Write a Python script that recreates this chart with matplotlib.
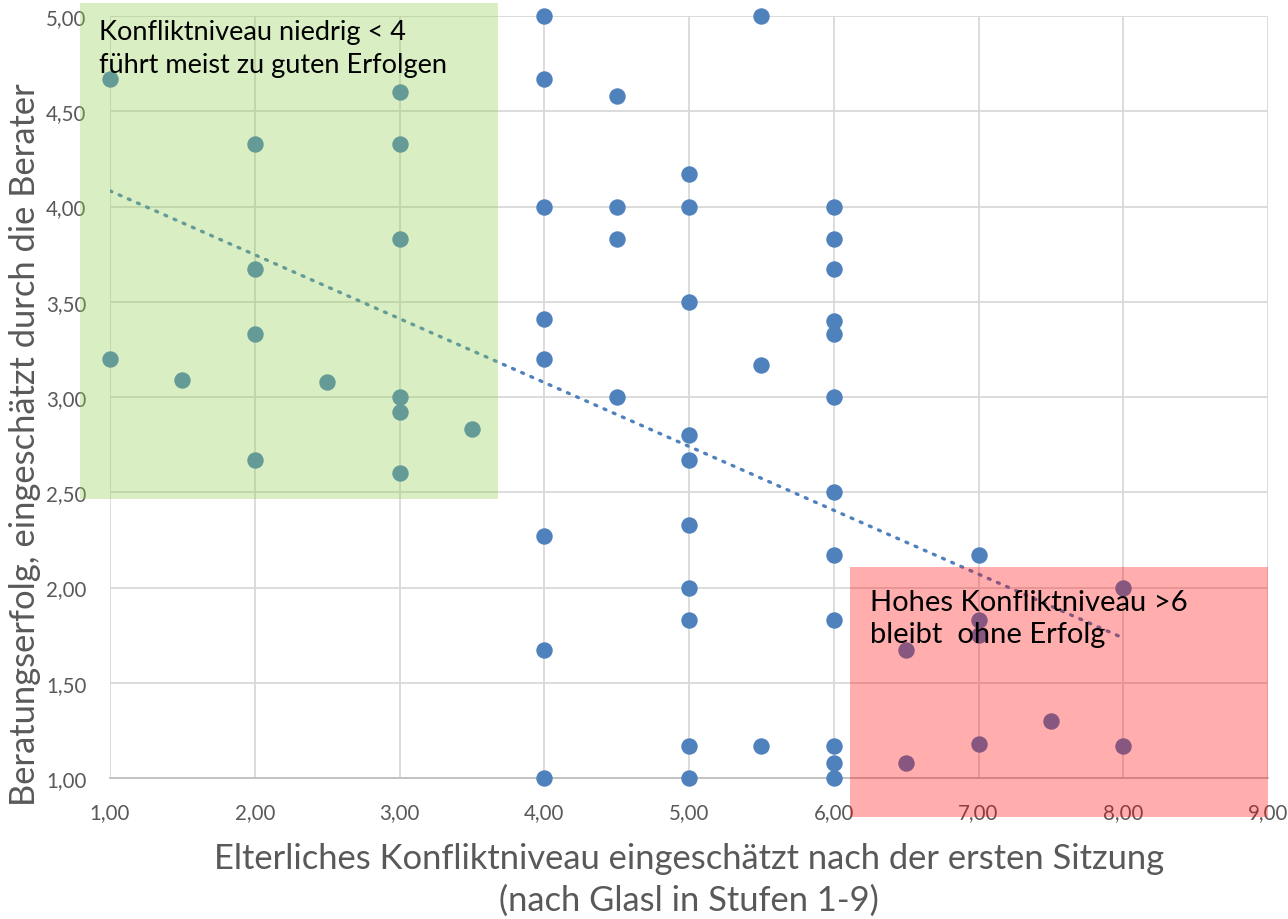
import numpy as np
import matplotlib
matplotlib.use("Agg")
import matplotlib.pyplot as plt
from matplotlib.patches import Rectangle
from matplotlib.ticker import FuncFormatter, MultipleLocator

plt.rcParams['font.family'] = ['Lato', 'DejaVu Sans']

# Data: conflict level (x) vs. counseling success (y)
konflikt = [1, 1, 1.5, 2, 2, 2, 2, 2.5, 3, 3, 3, 3, 3, 3, 3.5,
            4, 4, 4, 4, 4, 4, 4, 4,
            4.5, 4.5, 4.5, 4.5,
            5, 5, 5, 5, 5, 5, 5, 5, 5, 5,
            5.5, 5.5, 5.5,
            6, 6, 6, 6, 6, 6, 6, 6, 6, 6, 6, 6,
            6.5, 6.5, 7, 7, 7, 7, 7.5, 8, 8]
erfolg = [4.67, 3.20, 3.09, 4.33, 3.67, 3.33, 2.67, 3.08, 4.60, 4.33, 3.83, 3.00, 2.92, 2.60, 2.83,
          5.00, 4.67, 4.00, 3.41, 3.20, 2.27, 1.67, 1.00,
          4.58, 4.00, 3.83, 3.00,
          4.17, 4.00, 3.50, 2.80, 2.67, 2.33, 2.00, 1.83, 1.17, 1.00,
          5.00, 3.17, 1.17,
          4.00, 3.83, 3.67, 3.40, 3.33, 3.00, 2.50, 2.17, 1.83, 1.17, 1.08, 1.00,
          1.67, 1.08, 2.17, 1.83, 1.75, 1.18, 1.30, 2.00, 1.17]

x_label = "Elterliches Konfliktniveau eingeschätzt nach der ersten Sitzung\n(nach Glasl in Stufen 1-9)"
y_label = "Beratungserfolg, eingeschätzt durch die Berater"
green_text = "Konfliktniveau niedrig < 4\nführt meist zu guten Erfolgen"
red_text = "Hohes Konfliktniveau >6\nbleibt  ohne Erfolg"

W, H = 1288, 920
fig = plt.figure(figsize=(W / 100, H / 100), dpi=100)
ax = fig.add_axes([110 / W, 1 - 779 / H, (1268 - 110) / W, (779 - 17) / H])

blue = "#4F81BD"
grey_txt = "#595959"

ax.set_xlim(1, 9)
ax.set_ylim(1, 5)
ax.xaxis.set_major_locator(MultipleLocator(1))
ax.yaxis.set_major_locator(MultipleLocator(0.5))
fmt = FuncFormatter(lambda v, p: f"{v:.2f}".replace(".", ","))
ax.xaxis.set_major_formatter(fmt)
ax.yaxis.set_major_formatter(fmt)
ax.grid(True, color="#D9D9D9", lw=1.3)
ax.set_axisbelow(True)
for s in ["top", "right", "left"]:
    ax.spines[s].set_visible(False)
ax.spines["bottom"].set_color("#BFBFBF")
ax.spines["bottom"].set_linewidth(1.3)
ax.tick_params(length=0, labelsize=14.8, labelcolor=grey_txt)
ax.tick_params(axis="x", pad=17)
ax.tick_params(axis="y", pad=17)

ax.scatter(konflikt, erfolg, s=140, color=blue, zorder=3, linewidths=0, clip_on=False)

# Linear trendline
xa = np.array(konflikt, dtype=float)
ya = np.array(erfolg, dtype=float)
m, b = np.polyfit(xa, ya, 1)
xt = np.array([xa.min(), xa.max()])
ax.plot(xt, m * xt + b, color=blue, lw=2.4, linestyle=(0, (0.6, 2.4)),
        dash_capstyle="round", zorder=3)

# Highlight boxes (figure pixel coordinates)
def fig_rect(x0, y0, x1, y1, color, alpha):
    r = Rectangle((x0 / W, 1 - y1 / H), (x1 - x0) / W, (y1 - y0) / H,
                  transform=fig.transFigure, facecolor=color, alpha=alpha,
                  edgecolor="none", zorder=5)
    fig.add_artist(r)

fig_rect(80, 4, 498, 500, "#92D050", 0.34)
fig_rect(850, 568, 1268, 818, "#FF0000", 0.32)

fig.text(99 / W, 1 - 49 / H, green_text, fontsize=19.5, color="black",
         va="center", ha="left", linespacing=1.38, zorder=6)
fig.text(870 / W, 1 - 619 / H, red_text, fontsize=21, color="black",
         va="center", ha="left", linespacing=1.25, zorder=6)

fig.text(689 / W, 1 - 880 / H, x_label, fontsize=24.8, color=grey_txt,
         ha="center", va="center", linespacing=1.4)
fig.text(25 / W, 1 - 445 / H, y_label, fontsize=24.8, color=grey_txt,
         ha="center", va="center", rotation=90)

fig.savefig("out.png", dpi=100)
